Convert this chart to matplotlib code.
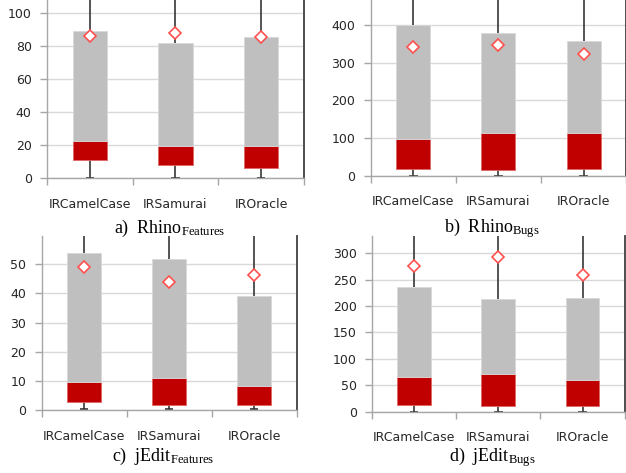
import matplotlib as mpl
import matplotlib.pyplot as plt
import numpy as np

TECHNIQUES = ["IRCamelCase", "IRSamurai", "IROracle"]

# per panel: first quartile, median, third quartile, mean, whisker min/max
RHINO_FEAT_Q1 = [11, 8, 6]
RHINO_FEAT_MED = [22.5, 19.6, 19.6]
RHINO_FEAT_Q3 = [89, 82, 85.5]
RHINO_FEAT_MEAN = [86, 88, 85.5]
RHINO_FEAT_MIN = [0, 0, 0]
RHINO_FEAT_MAX = [130, 130, 130]

RHINO_BUGS_Q1 = [18, 15, 18]
RHINO_BUGS_MED = [98, 114, 114]
RHINO_BUGS_Q3 = [400, 379, 359]
RHINO_BUGS_MEAN = [343, 348, 323]
RHINO_BUGS_MIN = [0, 0, 0]
RHINO_BUGS_MAX = [550, 550, 550]

JEDIT_FEAT_Q1 = [2.9, 1.8, 1.8]
JEDIT_FEAT_MED = [9.7, 10.9, 8.4]
JEDIT_FEAT_Q3 = [54, 51.8, 39]
JEDIT_FEAT_MEAN = [49.2, 43.8, 46.2]
JEDIT_FEAT_MIN = [0.3, 0.3, 0.3]
JEDIT_FEAT_MAX = [70, 70, 70]

JEDIT_BUGS_Q1 = [13, 10, 10]
JEDIT_BUGS_MED = [65, 72, 60]
JEDIT_BUGS_Q3 = [237, 214, 216]
JEDIT_BUGS_MEAN = [276, 293, 258]
JEDIT_BUGS_MIN = [0, 0, 0]
JEDIT_BUGS_MAX = [400, 400, 400]

RED = "#C00000"
GREY = "#BFBFBF"
GRID = "#D9D9D9"
AXIS = "#A6A6A6"

mpl.rcParams.update({
    "font.family": "DejaVu Sans",
    "mathtext.fontset": "custom",
    "mathtext.rm": "Liberation Serif",
    "mathtext.it": "Liberation Serif:italic",
})


def draw_panel(fig, rect, q1, med, q3, mean, wmin, wmax, yticks, ylim_top, caption, cap_y):
    ax = fig.add_axes(rect)
    x = np.arange(len(TECHNIQUES))
    q1, med, q3 = map(np.asarray, (q1, med, q3))
    ax.vlines(x, q3, wmax, color="#262626", lw=1.1, zorder=2)
    ax.vlines(x, wmin, q1, color="#262626", lw=1.1, zorder=2)
    ax.hlines(wmin, x - 0.05, x + 0.05, color="#262626", lw=1.1, zorder=2)
    ax.bar(x, med - q1, bottom=q1, width=0.4, color=RED, edgecolor="#E06666", lw=0.6, zorder=3)
    ax.bar(x, q3 - med, bottom=med, width=0.4, color=GREY, edgecolor="#D9D9D9", lw=0.6, zorder=3)
    ax.plot(x, mean, ls="none", marker="D", ms=6, mfc="white", mec="#FF5050", mew=1.2, zorder=5)

    ax.set_xlim(-0.5, len(TECHNIQUES) - 0.5)
    ax.set_ylim(0, ylim_top)
    ax.set_yticks(yticks)
    ax.set_xticks(np.arange(len(TECHNIQUES) + 1) - 0.5)
    ax.set_xticklabels([])
    ax.set_xticks(x, minor=True)
    ax.set_xticklabels(TECHNIQUES, minor=True)
    ax.tick_params(axis="x", which="major", direction="out", length=5, color=AXIS, width=1)
    ax.tick_params(axis="x", which="minor", length=0, pad=14, labelsize=9, labelcolor="#262626")
    ax.tick_params(axis="y", direction="out", length=5, color=AXIS, width=1, pad=6,
                   labelsize=9, labelcolor="#262626")
    ax.yaxis.grid(True, color=GRID, lw=1)
    ax.set_axisbelow(True)
    ax.spines["top"].set_visible(False)
    ax.spines["left"].set_color(AXIS)
    ax.spines["bottom"].set_color(AXIS)
    ax.spines["right"].set_color("#404040")
    ax.spines["right"].set_linewidth(1.3)
    ax.spines["left"].set_linewidth(1)
    ax.spines["bottom"].set_linewidth(1)

    cx = rect[0] + rect[2] / 2 - 0.01
    fig.text(cx, cap_y, caption, ha="center", va="center", fontsize=13,
             family="Liberation Serif")
    return ax


fig = plt.figure(figsize=(6.26, 4.73), dpi=100)

draw_panel(fig, [0.0751, 0.6230, 0.4105, 0.3770],
           RHINO_FEAT_Q1, RHINO_FEAT_MED, RHINO_FEAT_Q3, RHINO_FEAT_MEAN,
           RHINO_FEAT_MIN, RHINO_FEAT_MAX, [0, 20, 40, 60, 80, 100], 108,
           r"a)  Rhino$_{\mathrm{Features}}$", 1 - 228 / 473)
draw_panel(fig, [0.5922, 0.6285, 0.4080, 0.3715],
           RHINO_BUGS_Q1, RHINO_BUGS_MED, RHINO_BUGS_Q3, RHINO_BUGS_MEAN,
           RHINO_BUGS_MIN, RHINO_BUGS_MAX, [0, 100, 200, 300, 400], 467,
           r"b)  Rhino$_{\mathrm{Bugs}}$", 1 - 228 / 473)
draw_panel(fig, [0.0666, 0.1326, 0.4073, 0.3685],
           JEDIT_FEAT_Q1, JEDIT_FEAT_MED, JEDIT_FEAT_Q3, JEDIT_FEAT_MEAN,
           JEDIT_FEAT_MIN, JEDIT_FEAT_MAX, [0, 10, 20, 30, 40, 50], 59.7,
           r"c)  jEdit$_{\mathrm{Features}}$", 1 - 456 / 473)
draw_panel(fig, [0.5942, 0.1296, 0.4037, 0.3715],
           JEDIT_BUGS_Q1, JEDIT_BUGS_MED, JEDIT_BUGS_Q3, JEDIT_BUGS_MEAN,
           JEDIT_BUGS_MIN, JEDIT_BUGS_MAX, [0, 50, 100, 150, 200, 250, 300], 332.8,
           r"d)  jEdit$_{\mathrm{Bugs}}$", 1 - 457 / 473)

fig.savefig("out.png", dpi=100)
